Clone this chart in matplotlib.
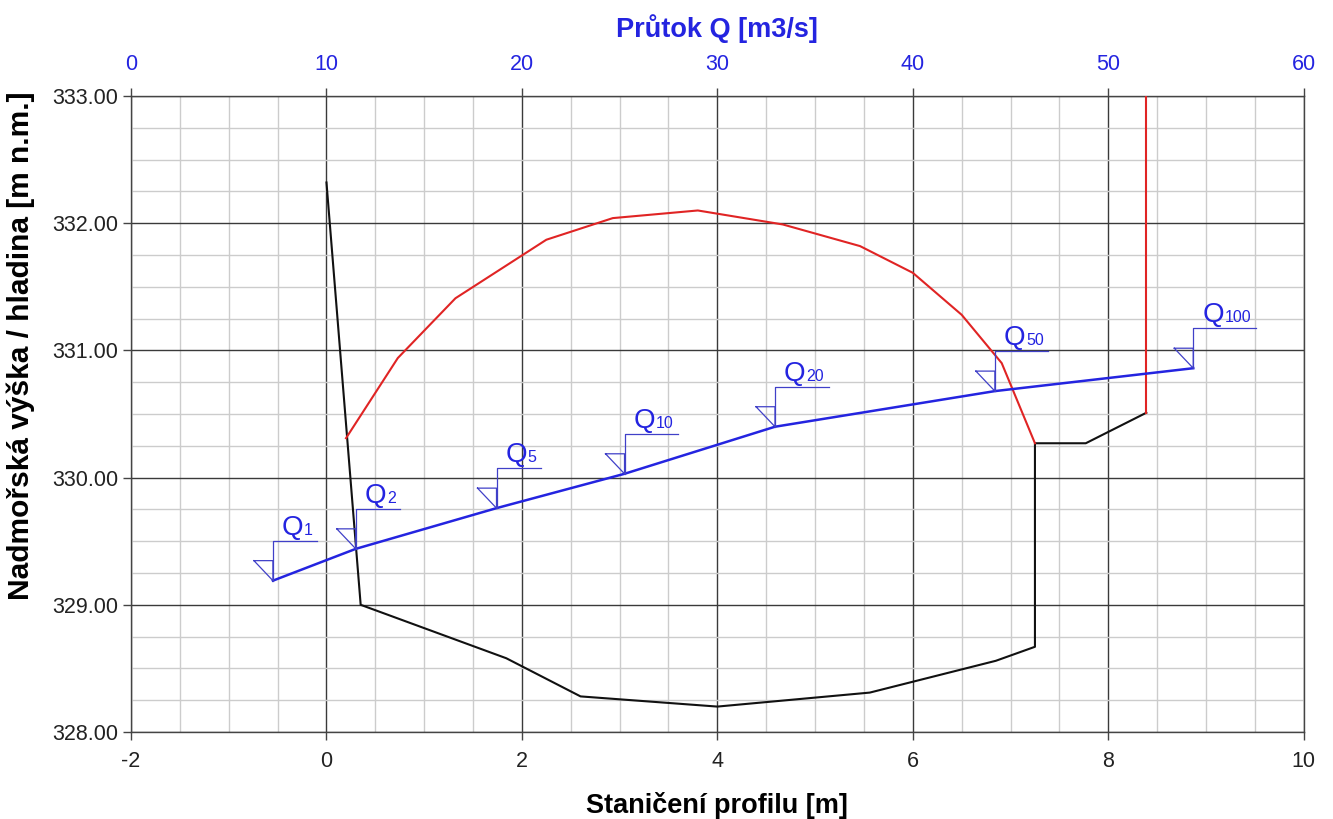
import matplotlib.pyplot as plt
import numpy as np
from matplotlib.ticker import MultipleLocator

plt.rcParams['font.family'] = ['Liberation Sans', 'DejaVu Sans']
plt.rcParams['axes.unicode_minus'] = False

# cross-section of the channel (station [m], elevation [m n.m.])
profile_x = [0.0, 0.35, 1.84, 2.60, 4.0, 5.56, 6.85, 7.25, 7.25, 7.77, 8.39]
profile_z = [332.32, 329.0, 328.58, 328.28, 328.20, 328.31, 328.56, 328.67, 330.27, 330.27, 330.51]

# red outline (bridge / culvert)
red_x = [0.20, 0.73, 1.32, 2.25, 2.93, 3.80, 4.67, 5.46, 6.00, 6.50, 6.91, 7.25]
red_z = [330.31, 330.94, 331.41, 331.87, 332.04, 332.10, 331.99, 331.82, 331.61, 331.28, 330.90, 330.27]
wall_x = [8.39, 8.39]
wall_z = [330.51, 333.0]

# rating curve: discharge Q [m3/s] vs. water level
q_names = ['1', '2', '5', '10', '20', '50', '100']
q_values = [7.26, 11.5, 18.7, 25.25, 32.95, 44.2, 54.35]
q_levels = [329.19, 329.44, 329.76, 330.03, 330.40, 330.68, 330.86]

x_ticks = [-2, 0, 2, 4, 6, 8, 10]
q_ticks = [0, 10, 20, 30, 40, 50, 60]
y_ticks = [328, 329, 330, 331, 332, 333]

BLUE = '#2424e0'
MARK = '#4040c8'
RED = '#e02424'

fig, ax = plt.subplots(figsize=(13.33, 8.19), dpi=100)
fig.subplots_adjust(left=0.0983, right=0.978, top=0.8828, bottom=0.1062)

ax.set_xlim(-2, 10)
ax.set_ylim(328, 333)
ax.set_xticks(x_ticks)
ax.set_yticks(y_ticks)
ax.set_yticklabels([f'{v:.2f}' for v in y_ticks])
ax.xaxis.set_minor_locator(MultipleLocator(0.5))
ax.yaxis.set_minor_locator(MultipleLocator(0.25))
ax.grid(which='minor', color='#cccccc', lw=1.0, zorder=0)
ax.grid(which='major', color='#3a3a3a', lw=1.0, zorder=0.5)
ax.tick_params(which='major', direction='out', length=6, width=1, color='#444444',
               labelsize=15.5, labelcolor='#222222')
ax.tick_params(axis='x', pad=8)
ax.tick_params(axis='y', pad=3)
ax.tick_params(which='minor', length=0)
for s in ax.spines.values():
    s.set_color('#444444')
    s.set_linewidth(1.0)
ax.set_axisbelow(True)

ax.set_xlabel('Staničení profilu [m]', fontsize=19.5, fontweight='bold', labelpad=14)
ax.set_ylabel('Nadmořská výška / hladina [m n.m.]', fontsize=21.5, fontweight='bold')
ax.yaxis.set_label_coords(-0.082, 0.608)

ax.plot(profile_x, profile_z, color='#111111', lw=1.5, zorder=3)
ax.plot(red_x, red_z, color=RED, lw=1.5, zorder=3)
ax.plot(wall_x, wall_z, color=RED, lw=1.5, zorder=3)

# top axis: discharge
ax2 = ax.twiny()
ax2.set_xlim(0, 60)
ax2.set_ylim(328, 333)
ax2.set_xticks(q_ticks)
ax2.tick_params(axis='x', direction='out', length=6, width=1, color='#444444',
                labelsize=15.5, pad=9, labelcolor=BLUE)
for s in ax2.spines.values():
    s.set_visible(False)
ax2.set_xlabel('Průtok Q [m3/s]', fontsize=19.5, fontweight='bold', color=BLUE, labelpad=12)

ax2.plot(q_values, q_levels, color=BLUE, lw=1.8, zorder=4)

# water level markers (drawn in pixel offsets)
trans = ax2.transData
inv = trans.inverted()
for name, q, h in zip(q_names, q_values, q_levels):
    px, py = trans.transform((q, h))
    w = 44 + 9.5 * (len(name) - 1)
    tri = np.array([[px - 19, py + 20], [px, py + 20], [px, py], [px - 19, py + 20]])
    stem = np.array([[px, py], [px, py + 40], [px + w, py + 40]])
    t = inv.transform(tri)
    s = inv.transform(stem)
    ax2.plot(t[:, 0], t[:, 1], color=MARK, lw=0.9, zorder=4)
    ax2.plot(s[:, 0], s[:, 1], color=MARK, lw=0.9, zorder=4)
    ax2.annotate('Q', xy=(q, h), xytext=(9, 46), textcoords='offset pixels',
                 fontsize=20, color=BLUE, ha='left', va='baseline')
    ax2.annotate(name, xy=(q, h), xytext=(31, 46), textcoords='offset pixels',
                 fontsize=11.5, color=BLUE, ha='left', va='baseline')

fig.savefig('out.png', dpi=100)
